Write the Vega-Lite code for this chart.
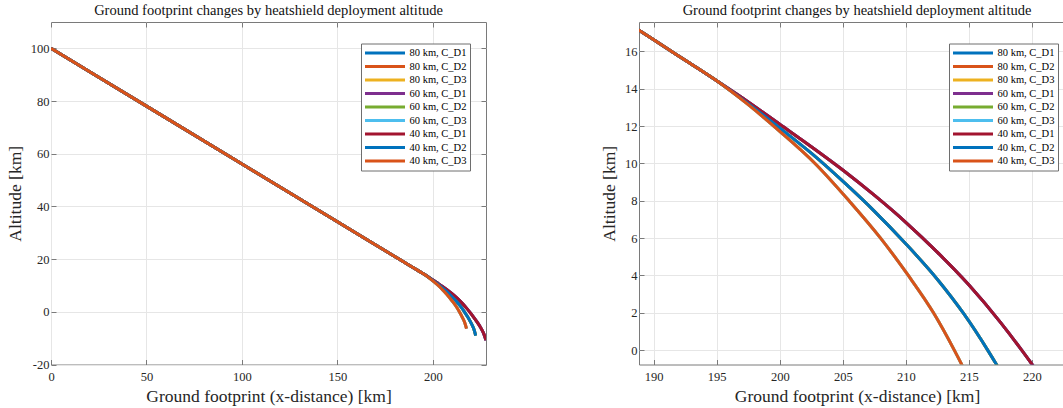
{
"$schema": "https://vega.github.io/schema/vega-lite/v6.json",
"background": "white",
"padding": {"left": 5, "top": 2, "right": 0, "bottom": 0},
"datasets": {"traj": [
{"s":"80 km, C_D1","x":0,"y":100},{"s":"80 km, C_D1","x":50,"y":78.06},{"s":"80 km, C_D1","x":100,"y":56.12},{"s":"80 km, C_D1","x":150,"y":34.18},{"s":"80 km, C_D1","x":180,"y":21.02},{"s":"80 km, C_D1","x":185,"y":18.82},{"s":"80 km, C_D1","x":190,"y":16.63},{"s":"80 km, C_D1","x":192.5,"y":15.53},{"s":"80 km, C_D1","x":195,"y":14.43},{"s":"80 km, C_D1","x":197.5,"y":13.3},{"s":"80 km, C_D1","x":200,"y":12.1},{"s":"80 km, C_D1","x":202.5,"y":10.9},{"s":"80 km, C_D1","x":205,"y":9.65},{"s":"80 km, C_D1","x":207.5,"y":8.3},{"s":"80 km, C_D1","x":210,"y":6.85},{"s":"80 km, C_D1","x":212.5,"y":5.25},{"s":"80 km, C_D1","x":215,"y":3.5},{"s":"80 km, C_D1","x":217.5,"y":1.5},{"s":"80 km, C_D1","x":219.2,"y":0},{"s":"80 km, C_D1","x":221,"y":-1.7},{"s":"80 km, C_D1","x":223,"y":-3.75},{"s":"80 km, C_D1","x":225,"y":-6.0},{"s":"80 km, C_D1","x":226.5,"y":-8.1},{"s":"80 km, C_D1","x":227.8,"y":-10.8},
{"s":"80 km, C_D2","x":0,"y":100},{"s":"80 km, C_D2","x":50,"y":78.06},{"s":"80 km, C_D2","x":100,"y":56.12},{"s":"80 km, C_D2","x":150,"y":34.18},{"s":"80 km, C_D2","x":180,"y":21.02},{"s":"80 km, C_D2","x":185,"y":18.82},{"s":"80 km, C_D2","x":190,"y":16.63},{"s":"80 km, C_D2","x":192.5,"y":15.53},{"s":"80 km, C_D2","x":195,"y":14.43},{"s":"80 km, C_D2","x":197.5,"y":13.2},{"s":"80 km, C_D2","x":200,"y":11.9},{"s":"80 km, C_D2","x":202.5,"y":10.55},{"s":"80 km, C_D2","x":205,"y":9.05},{"s":"80 km, C_D2","x":207.5,"y":7.45},{"s":"80 km, C_D2","x":210,"y":5.7},{"s":"80 km, C_D2","x":212.5,"y":3.8},{"s":"80 km, C_D2","x":214.6,"y":1.95},{"s":"80 km, C_D2","x":216.5,"y":0},{"s":"80 km, C_D2","x":218.5,"y":-2.3},{"s":"80 km, C_D2","x":220.5,"y":-5.0},{"s":"80 km, C_D2","x":221.6,"y":-6.9},{"s":"80 km, C_D2","x":222.4,"y":-9.0},
{"s":"80 km, C_D3","x":0,"y":100},{"s":"80 km, C_D3","x":50,"y":78.06},{"s":"80 km, C_D3","x":100,"y":56.12},{"s":"80 km, C_D3","x":150,"y":34.18},{"s":"80 km, C_D3","x":180,"y":21.02},{"s":"80 km, C_D3","x":185,"y":18.82},{"s":"80 km, C_D3","x":190,"y":16.63},{"s":"80 km, C_D3","x":192.5,"y":15.53},{"s":"80 km, C_D3","x":195,"y":14.43},{"s":"80 km, C_D3","x":197.5,"y":13.15},{"s":"80 km, C_D3","x":200,"y":11.72},{"s":"80 km, C_D3","x":202.8,"y":10.0},{"s":"80 km, C_D3","x":205.5,"y":8.0},{"s":"80 km, C_D3","x":208,"y":6.0},{"s":"80 km, C_D3","x":210.2,"y":4.0},{"s":"80 km, C_D3","x":212.2,"y":2.0},{"s":"80 km, C_D3","x":213.85,"y":0},{"s":"80 km, C_D3","x":215.4,"y":-2.1},{"s":"80 km, C_D3","x":216.6,"y":-4.0},{"s":"80 km, C_D3","x":217.6,"y":-6.4},
{"s":"60 km, C_D1","x":0,"y":100},{"s":"60 km, C_D1","x":50,"y":78.06},{"s":"60 km, C_D1","x":100,"y":56.12},{"s":"60 km, C_D1","x":150,"y":34.18},{"s":"60 km, C_D1","x":180,"y":21.02},{"s":"60 km, C_D1","x":185,"y":18.82},{"s":"60 km, C_D1","x":190,"y":16.63},{"s":"60 km, C_D1","x":192.5,"y":15.53},{"s":"60 km, C_D1","x":195,"y":14.43},{"s":"60 km, C_D1","x":197.5,"y":13.3},{"s":"60 km, C_D1","x":200,"y":12.1},{"s":"60 km, C_D1","x":202.5,"y":10.9},{"s":"60 km, C_D1","x":205,"y":9.65},{"s":"60 km, C_D1","x":207.5,"y":8.3},{"s":"60 km, C_D1","x":210,"y":6.85},{"s":"60 km, C_D1","x":212.5,"y":5.25},{"s":"60 km, C_D1","x":215,"y":3.5},{"s":"60 km, C_D1","x":217.5,"y":1.5},{"s":"60 km, C_D1","x":219.2,"y":0},{"s":"60 km, C_D1","x":221,"y":-1.7},{"s":"60 km, C_D1","x":223,"y":-3.75},{"s":"60 km, C_D1","x":225,"y":-6.0},{"s":"60 km, C_D1","x":226.5,"y":-8.1},{"s":"60 km, C_D1","x":227.8,"y":-10.8},
{"s":"60 km, C_D2","x":0,"y":100},{"s":"60 km, C_D2","x":50,"y":78.06},{"s":"60 km, C_D2","x":100,"y":56.12},{"s":"60 km, C_D2","x":150,"y":34.18},{"s":"60 km, C_D2","x":180,"y":21.02},{"s":"60 km, C_D2","x":185,"y":18.82},{"s":"60 km, C_D2","x":190,"y":16.63},{"s":"60 km, C_D2","x":192.5,"y":15.53},{"s":"60 km, C_D2","x":195,"y":14.43},{"s":"60 km, C_D2","x":197.5,"y":13.2},{"s":"60 km, C_D2","x":200,"y":11.9},{"s":"60 km, C_D2","x":202.5,"y":10.55},{"s":"60 km, C_D2","x":205,"y":9.05},{"s":"60 km, C_D2","x":207.5,"y":7.45},{"s":"60 km, C_D2","x":210,"y":5.7},{"s":"60 km, C_D2","x":212.5,"y":3.8},{"s":"60 km, C_D2","x":214.6,"y":1.95},{"s":"60 km, C_D2","x":216.5,"y":0},{"s":"60 km, C_D2","x":218.5,"y":-2.3},{"s":"60 km, C_D2","x":220.5,"y":-5.0},{"s":"60 km, C_D2","x":221.6,"y":-6.9},{"s":"60 km, C_D2","x":222.4,"y":-9.0},
{"s":"60 km, C_D3","x":0,"y":100},{"s":"60 km, C_D3","x":50,"y":78.06},{"s":"60 km, C_D3","x":100,"y":56.12},{"s":"60 km, C_D3","x":150,"y":34.18},{"s":"60 km, C_D3","x":180,"y":21.02},{"s":"60 km, C_D3","x":185,"y":18.82},{"s":"60 km, C_D3","x":190,"y":16.63},{"s":"60 km, C_D3","x":192.5,"y":15.53},{"s":"60 km, C_D3","x":195,"y":14.43},{"s":"60 km, C_D3","x":197.5,"y":13.15},{"s":"60 km, C_D3","x":200,"y":11.72},{"s":"60 km, C_D3","x":202.8,"y":10.0},{"s":"60 km, C_D3","x":205.5,"y":8.0},{"s":"60 km, C_D3","x":208,"y":6.0},{"s":"60 km, C_D3","x":210.2,"y":4.0},{"s":"60 km, C_D3","x":212.2,"y":2.0},{"s":"60 km, C_D3","x":213.85,"y":0},{"s":"60 km, C_D3","x":215.4,"y":-2.1},{"s":"60 km, C_D3","x":216.6,"y":-4.0},{"s":"60 km, C_D3","x":217.6,"y":-6.4},
{"s":"40 km, C_D1","x":0,"y":100},{"s":"40 km, C_D1","x":50,"y":78.06},{"s":"40 km, C_D1","x":100,"y":56.12},{"s":"40 km, C_D1","x":150,"y":34.18},{"s":"40 km, C_D1","x":180,"y":21.02},{"s":"40 km, C_D1","x":185,"y":18.82},{"s":"40 km, C_D1","x":190,"y":16.63},{"s":"40 km, C_D1","x":192.5,"y":15.53},{"s":"40 km, C_D1","x":195,"y":14.43},{"s":"40 km, C_D1","x":197.5,"y":13.3},{"s":"40 km, C_D1","x":200,"y":12.1},{"s":"40 km, C_D1","x":202.5,"y":10.9},{"s":"40 km, C_D1","x":205,"y":9.65},{"s":"40 km, C_D1","x":207.5,"y":8.3},{"s":"40 km, C_D1","x":210,"y":6.85},{"s":"40 km, C_D1","x":212.5,"y":5.25},{"s":"40 km, C_D1","x":215,"y":3.5},{"s":"40 km, C_D1","x":217.5,"y":1.5},{"s":"40 km, C_D1","x":219.2,"y":0},{"s":"40 km, C_D1","x":221,"y":-1.7},{"s":"40 km, C_D1","x":223,"y":-3.75},{"s":"40 km, C_D1","x":225,"y":-6.0},{"s":"40 km, C_D1","x":226.5,"y":-8.1},{"s":"40 km, C_D1","x":227.8,"y":-10.8},
{"s":"40 km, C_D2","x":0,"y":100},{"s":"40 km, C_D2","x":50,"y":78.06},{"s":"40 km, C_D2","x":100,"y":56.12},{"s":"40 km, C_D2","x":150,"y":34.18},{"s":"40 km, C_D2","x":180,"y":21.02},{"s":"40 km, C_D2","x":185,"y":18.82},{"s":"40 km, C_D2","x":190,"y":16.63},{"s":"40 km, C_D2","x":192.5,"y":15.53},{"s":"40 km, C_D2","x":195,"y":14.43},{"s":"40 km, C_D2","x":197.5,"y":13.2},{"s":"40 km, C_D2","x":200,"y":11.9},{"s":"40 km, C_D2","x":202.5,"y":10.55},{"s":"40 km, C_D2","x":205,"y":9.05},{"s":"40 km, C_D2","x":207.5,"y":7.45},{"s":"40 km, C_D2","x":210,"y":5.7},{"s":"40 km, C_D2","x":212.5,"y":3.8},{"s":"40 km, C_D2","x":214.6,"y":1.95},{"s":"40 km, C_D2","x":216.5,"y":0},{"s":"40 km, C_D2","x":218.5,"y":-2.3},{"s":"40 km, C_D2","x":220.5,"y":-5.0},{"s":"40 km, C_D2","x":221.6,"y":-6.9},{"s":"40 km, C_D2","x":222.4,"y":-9.0},
{"s":"40 km, C_D3","x":0,"y":100},{"s":"40 km, C_D3","x":50,"y":78.06},{"s":"40 km, C_D3","x":100,"y":56.12},{"s":"40 km, C_D3","x":150,"y":34.18},{"s":"40 km, C_D3","x":180,"y":21.02},{"s":"40 km, C_D3","x":185,"y":18.82},{"s":"40 km, C_D3","x":190,"y":16.63},{"s":"40 km, C_D3","x":192.5,"y":15.53},{"s":"40 km, C_D3","x":195,"y":14.43},{"s":"40 km, C_D3","x":197.5,"y":13.15},{"s":"40 km, C_D3","x":200,"y":11.72},{"s":"40 km, C_D3","x":202.8,"y":10.0},{"s":"40 km, C_D3","x":205.5,"y":8.0},{"s":"40 km, C_D3","x":208,"y":6.0},{"s":"40 km, C_D3","x":210.2,"y":4.0},{"s":"40 km, C_D3","x":212.2,"y":2.0},{"s":"40 km, C_D3","x":213.85,"y":0},{"s":"40 km, C_D3","x":215.4,"y":-2.1},{"s":"40 km, C_D3","x":216.6,"y":-4.0},{"s":"40 km, C_D3","x":217.6,"y":-6.4}
]},
"hconcat": [
{
"width": 435, "height": 342.5,
"title": {"text": "Ground footprint changes by heatshield deployment altitude"},
"layer": [
{
"mark": {"type": "rule", "color": "#8c8c8c", "strokeWidth": 1},
"encoding": {
"x": {"datum": 0, "type": "quantitative", "axis": {"orient": "top", "labels": false, "grid": false, "title": null, "values": [0, 50, 100, 150, 200]}},
"x2": {"datum": 227.8},
"y": {"datum": 0, "type": "quantitative", "axis": {"orient": "right", "labels": false, "grid": false, "title": null, "values": [-20, 0, 20, 40, 60, 80, 100]}}
}
},
{
"data": {"name": "traj"},
"mark": {"type": "line", "strokeWidth": 3, "clip": true, "interpolate": "monotone"},
"encoding": {
"x": {"field": "x", "type": "quantitative", "scale": {"domain": [0, 227.8], "nice": false, "zero": false}, "axis": {"orient": "bottom", "values": [0, 50, 100, 150, 200], "title": "Ground footprint (x-distance) [km]", "grid": true, "labelFont": "Liberation Serif"}},
"y": {"field": "y", "type": "quantitative", "scale": {"domain": [-20, 110], "nice": false, "zero": false}, "axis": {"orient": "left", "values": [-20, 0, 20, 40, 60, 80, 100], "title": "Altitude [km]", "grid": true, "labelExpr": "'' + datum.value", "labelFont": "Liberation Serif"}},
"color": {"field": "s", "type": "nominal",
"scale": {"domain": ["80 km, C_D1","80 km, C_D2","80 km, C_D3","60 km, C_D1","60 km, C_D2","60 km, C_D3","40 km, C_D1","40 km, C_D2","40 km, C_D3"], "range": ["#0072BD","#D95319","#EDB120","#7E2F8E","#77AC30","#4DBEEE","#A2142F","#0072BD","#D95319"]},
"legend": {"title": null, "orient": "none", "legendX": 310, "legendY": 21.5, "strokeColor": "#6e6e6e", "fillColor": "#ffffff", "padding": 3, "labelFont": "Liberation Serif", "labelFontSize": 10.5, "labelColor": "#000000", "symbolType": "M-7,0H1", "symbolSize": 100, "symbolStrokeWidth": 3, "symbolOffset": 29.5, "labelOffset": 3, "rowPadding": 0.5, "labelLimit": 200}}
}
}
],
"resolve": {"axis": {"x": "independent", "y": "independent"}}
},
{
"width": 436, "height": 342.5,
"title": {"text": "Ground footprint changes by heatshield deployment altitude"},
"layer": [
{
"mark": {"type": "rule", "color": "#8c8c8c", "strokeWidth": 1},
"encoding": {
"x": {"datum": 188.83, "type": "quantitative", "axis": {"orient": "top", "labels": false, "grid": false, "title": null, "values": [190, 195, 200, 205, 210, 215, 220]}},
"x2": {"datum": 223.43},
"y": {"datum": 0, "type": "quantitative", "axis": {"orient": "right", "labels": false, "grid": false, "title": null, "values": [0, 2, 4, 6, 8, 10, 12, 14, 16]}}
}
},
{
"data": {"name": "traj"},
"mark": {"type": "line", "strokeWidth": 3, "clip": true, "interpolate": "monotone"},
"encoding": {
"x": {"field": "x", "type": "quantitative", "scale": {"domain": [188.83, 223.43], "nice": false, "zero": false}, "axis": {"orient": "bottom", "values": [190, 195, 200, 205, 210, 215, 220], "title": "Ground footprint (x-distance) [km]", "grid": true, "labelFont": "Liberation Serif"}},
"y": {"field": "y", "type": "quantitative", "scale": {"domain": [-0.77, 17.58], "nice": false, "zero": false}, "axis": {"orient": "left", "values": [0, 2, 4, 6, 8, 10, 12, 14, 16], "title": "Altitude [km]", "grid": true, "labelExpr": "'' + datum.value", "labelFont": "Liberation Serif"}},
"color": {"field": "s", "type": "nominal",
"scale": {"domain": ["80 km, C_D1","80 km, C_D2","80 km, C_D3","60 km, C_D1","60 km, C_D2","60 km, C_D3","40 km, C_D1","40 km, C_D2","40 km, C_D3"], "range": ["#0072BD","#D95319","#EDB120","#7E2F8E","#77AC30","#4DBEEE","#A2142F","#0072BD","#D95319"]},
"legend": {"title": null, "orient": "none", "legendX": 310, "legendY": 21.5, "strokeColor": "#6e6e6e", "fillColor": "#ffffff", "padding": 3, "labelFont": "Liberation Serif", "labelFontSize": 10.5, "labelColor": "#000000", "symbolType": "M-7,0H1", "symbolSize": 100, "symbolStrokeWidth": 3, "symbolOffset": 29.5, "labelOffset": 3, "rowPadding": 0.5, "labelLimit": 200}}
}
}
],
"resolve": {"axis": {"x": "independent", "y": "independent"}}
}
],
"spacing": 153,
"bounds": "flush",
"resolve": {"scale": {"color": "independent"}},
"config": {
"font": "Liberation Serif",
"view": {"stroke": "#7a7a7a", "strokeWidth": 1},
"axis": {"domain": false, "grid": false, "gridColor": "#e6e6e6", "gridWidth": 1, "tickColor": "#7a7a7a", "tickSize": -5, "labelFont": "Liberation Serif", "labelFontSize": 12.5, "labelColor": "#262626", "labelPadding": 7, "labelFlush": false, "titleFont": "Liberation Serif", "titleFontSize": 17.5, "titleFontWeight": "normal", "titleColor": "#262626", "titlePadding": 6},
"axisX": {"labelPadding": 11, "titlePadding": 4},
"title": {"font": "Liberation Serif", "fontSize": 14.5, "fontWeight": "normal", "color": "#111111", "anchor": "middle", "frame": "group", "baseline": "alphabetic", "offset": 3}
}
}
